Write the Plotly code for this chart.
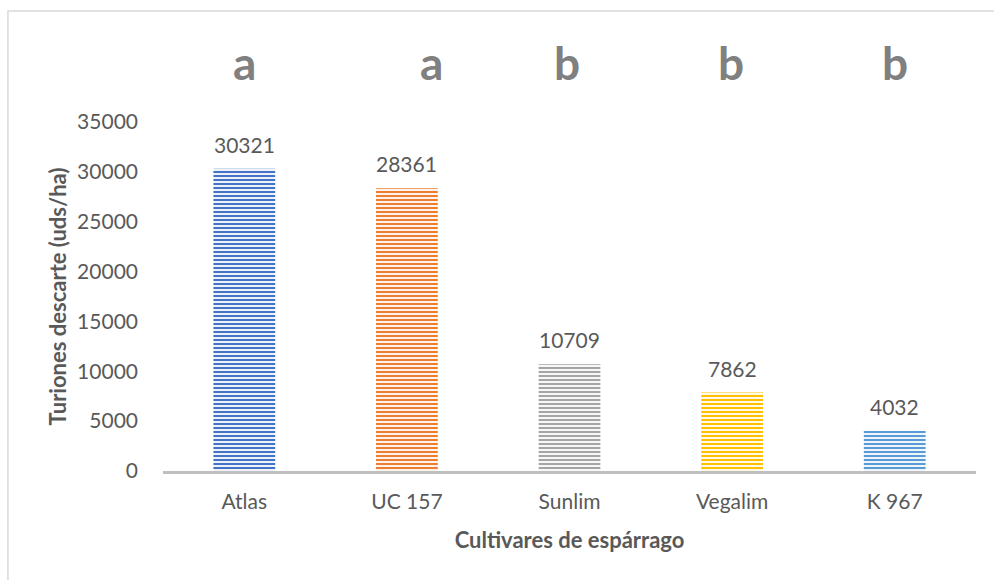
import plotly.graph_objects as go

cultivares = ['Atlas', 'UC 157', 'Sunlim', 'Vegalim', 'K 967']
turiones = [30321, 28361, 10709, 7862, 4032]
letras = ['a', 'a', 'b', 'b', 'b']

colores = ['#4472C4', '#ED7D31', '#A5A5A5', '#FFC000', '#5B9BD5']
claros = ['#D5DFF2', '#FBDCC6', '#E8E8E8', '#FFECB3', '#D9E8F6']

FONT = 'Lato'
GRIS = '#595959'

fig = go.Figure()

fig.add_trace(go.Bar(
    x=cultivares,
    y=turiones,
    marker=dict(
        color=colores,
        line=dict(width=0),
        pattern=dict(shape='-', fgcolor=colores, bgcolor=claros,
                     size=4, solidity=0.55, fillmode='replace'),
    ),
    width=0.38,
    showlegend=False,
    hoverinfo='x+y',
))

# etiquetas de valores sobre las barras
for c, v in zip(cultivares, turiones):
    fig.add_annotation(x=c, y=v, text=str(v), showarrow=False,
                       yanchor='bottom', yshift=10,
                       font=dict(family=FONT, size=21, color=GRIS))

# letras de significancia
shifts = [0, 25, -3, -1, 0]
for c, l, s in zip(cultivares, letras, shifts):
    fig.add_annotation(x=c, y=1.17, yref='paper', text='<b>%s</b>' % l,
                       showarrow=False, xshift=s, yanchor='middle',
                       font=dict(family=FONT, size=46, color='#808080'))

# marco del grafico
fig.add_shape(type='rect', xref='paper', yref='paper',
              x0=-0.1907, x1=1.05, y0=-0.4, y1=1.318,
              line=dict(color='#D9D9D9', width=1.5), fillcolor='rgba(0,0,0,0)')

fig.update_layout(
    width=994, height=580,
    margin=dict(l=163, r=18, t=122, b=109),
    paper_bgcolor='white', plot_bgcolor='white',
    font=dict(family=FONT, size=21, color=GRIS),
    xaxis=dict(
        showline=True, linecolor='#BFBFBF', linewidth=2.5,
        showgrid=False, ticks='', ticklabelstandoff=10,
        tickfont=dict(family=FONT, size=21, color=GRIS),
        title=dict(text='<b>Cultivares de espárrago</b>', standoff=21,
                   font=dict(family=FONT, size=22, color=GRIS)),
    ),
    yaxis=dict(
        range=[0, 35000], dtick=5000, tickformat='d',
        showgrid=False, zeroline=False,
        showline=False, ticks='', ticklabelstandoff=24,
        tickfont=dict(family=FONT, size=21, color=GRIS),
        title=dict(text='<b>Turiones descarte (uds/ha)</b>', standoff=4,
                   font=dict(family=FONT, size=22, color=GRIS)),
    ),
)

fig.write_html('out.html', config={'displayModeBar': False},
               post_script="document.body.style.margin='0';")
